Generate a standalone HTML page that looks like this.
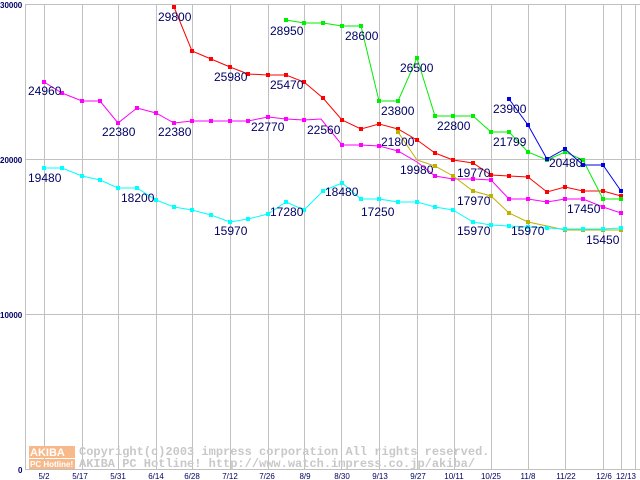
<!DOCTYPE html>
<html><head><meta charset="utf-8"><style>
html,body{margin:0;padding:0;background:#fff}
svg{display:block}
text{font-family:"Liberation Sans","DejaVu Sans",sans-serif}
</style></head><body>
<svg width="640" height="480" viewBox="0 0 640 480" xmlns="http://www.w3.org/2000/svg">
<rect width="640" height="480" fill="#fff"/>
<g stroke="#c0c0c0" stroke-width="1">
<line x1="25" y1="4.5" x2="640" y2="4.5"/>
<line x1="25" y1="159.5" x2="640" y2="159.5"/>
<line x1="25" y1="314.5" x2="640" y2="314.5"/>
<line x1="25" y1="469.5" x2="640" y2="469.5"/>
<line x1="25.5" y1="4" x2="25.5" y2="470"/>
<line x1="44.5" y1="4" x2="44.5" y2="470"/>
<line x1="82.5" y1="4" x2="82.5" y2="470"/>
<line x1="118.5" y1="4" x2="118.5" y2="470"/>
<line x1="156.5" y1="4" x2="156.5" y2="470"/>
<line x1="192.5" y1="4" x2="192.5" y2="470"/>
<line x1="230.5" y1="4" x2="230.5" y2="470"/>
<line x1="268.5" y1="4" x2="268.5" y2="470"/>
<line x1="304.5" y1="4" x2="304.5" y2="470"/>
<line x1="341.5" y1="4" x2="341.5" y2="470"/>
<line x1="379.5" y1="4" x2="379.5" y2="470"/>
<line x1="417.5" y1="4" x2="417.5" y2="470"/>
<line x1="454.5" y1="4" x2="454.5" y2="470"/>
<line x1="491.5" y1="4" x2="491.5" y2="470"/>
<line x1="528.5" y1="4" x2="528.5" y2="470"/>
<line x1="565.5" y1="4" x2="565.5" y2="470"/>
<line x1="603.5" y1="4" x2="603.5" y2="470"/>
<line x1="621.5" y1="4" x2="621.5" y2="470"/>
<line x1="635.5" y1="4" x2="635.5" y2="470"/>
</g>
<!-- watermark -->
<rect x="29" y="446" width="46" height="12" fill="#f7b98a"/>
<rect x="29" y="459" width="46" height="10" fill="#f7b98a"/>
<text x="30" y="456" font-size="11" fill="#fff" font-weight="bold">AKIBA</text>
<text x="30" y="467" font-size="8" fill="#fff" font-weight="bold">PC Hotline!</text>
<text x="79" y="455" fill="#c8c8c8" style="font-family:'Liberation Mono',monospace;font-size:12px;font-weight:bold">Copyright(c)2003 impress corporation All rights reserved.</text>
<text x="79" y="467" fill="#c8c8c8" style="font-family:'Liberation Mono',monospace;font-size:12px;font-weight:bold">AKIBA PC Hotline!  http://www.watch.impress.co.jp/akiba/</text>

<g fill="none" stroke-width="1">
<polyline stroke="#ff00ff" points="44,82 62,93 82,101 100,101 118,123 137,108 156,113 174,123 192,121 211,121 230,121 248,121 268,117 286,119 304,120 321,119 342,145 361,145 379,146 398,151 417,162 435,176 453,179 473,179 491,180 509,199 528,199 547,202 565,199 583,199 603,207 621,213"/>
<polyline stroke="#ff0000" points="174,7 192,51 211,59 230,67 248,74 268,75 286,75 304,82 323,98 342,120 361,129 379,124 398,129 417,140 435,153 453,160 473,163 491,175 509,176 528,177 547,192 565,187 583,191 603,191 621,196"/>
<polyline stroke="#00ee00" points="286,20 304,23 323,23 342,26 361,26 379,101 398,101 417,58 435,116 453,116 473,116 491,132 509,132 528,152 547,160 565,152 583,160 603,199 621,199"/>
<polyline stroke="#0000ee" points="509,99 528,125 547,159 565,149 583,165 603,165 621,191"/>
<polyline stroke="#c0b000" points="398,132 417,160 435,166 453,176 473,191 491,196 509,213 528,222 547,226 565,230 583,230 603,230 621,230"/>
<polyline stroke="#00ffff" points="44,168 62,168 82,176 100,180 118,188 137,188 156,200 174,207 192,210 211,215 230,222 248,219 268,214 286,202 304,210 323,191 342,183 361,199 379,199 398,202 417,202 435,207 453,210 473,222 491,225 509,226 528,227 547,228 565,229 583,229 603,229 621,228"/>
</g>
<g>
<g fill="#ff00ff"><rect x="42" y="80" width="4" height="4"/><rect x="60" y="91" width="4" height="4"/><rect x="80" y="99" width="4" height="4"/><rect x="98" y="99" width="4" height="4"/><rect x="116" y="121" width="4" height="4"/><rect x="135" y="106" width="4" height="4"/><rect x="154" y="111" width="4" height="4"/><rect x="172" y="121" width="4" height="4"/><rect x="190" y="119" width="4" height="4"/><rect x="209" y="119" width="4" height="4"/><rect x="228" y="119" width="4" height="4"/><rect x="246" y="119" width="4" height="4"/><rect x="266" y="115" width="4" height="4"/><rect x="284" y="117" width="4" height="4"/><rect x="302" y="118" width="4" height="4"/><rect x="340" y="143" width="4" height="4"/><rect x="359" y="143" width="4" height="4"/><rect x="377" y="144" width="4" height="4"/><rect x="396" y="149" width="4" height="4"/><rect x="433" y="174" width="4" height="4"/><rect x="451" y="177" width="4" height="4"/><rect x="471" y="177" width="4" height="4"/><rect x="489" y="178" width="4" height="4"/><rect x="507" y="197" width="4" height="4"/><rect x="526" y="197" width="4" height="4"/><rect x="545" y="200" width="4" height="4"/><rect x="563" y="197" width="4" height="4"/><rect x="581" y="197" width="4" height="4"/><rect x="601" y="205" width="4" height="4"/><rect x="619" y="211" width="4" height="4"/></g>
<g fill="#ff0000"><rect x="172" y="5" width="4" height="4"/><rect x="190" y="49" width="4" height="4"/><rect x="209" y="57" width="4" height="4"/><rect x="228" y="65" width="4" height="4"/><rect x="246" y="72" width="4" height="4"/><rect x="266" y="73" width="4" height="4"/><rect x="284" y="73" width="4" height="4"/><rect x="302" y="80" width="4" height="4"/><rect x="321" y="96" width="4" height="4"/><rect x="340" y="118" width="4" height="4"/><rect x="359" y="127" width="4" height="4"/><rect x="377" y="122" width="4" height="4"/><rect x="396" y="127" width="4" height="4"/><rect x="415" y="138" width="4" height="4"/><rect x="433" y="151" width="4" height="4"/><rect x="451" y="158" width="4" height="4"/><rect x="471" y="161" width="4" height="4"/><rect x="489" y="173" width="4" height="4"/><rect x="507" y="174" width="4" height="4"/><rect x="526" y="175" width="4" height="4"/><rect x="545" y="190" width="4" height="4"/><rect x="563" y="185" width="4" height="4"/><rect x="581" y="189" width="4" height="4"/><rect x="601" y="189" width="4" height="4"/><rect x="619" y="194" width="4" height="4"/></g>
<g fill="#00ee00"><rect x="284" y="18" width="4" height="4"/><rect x="302" y="21" width="4" height="4"/><rect x="321" y="21" width="4" height="4"/><rect x="340" y="24" width="4" height="4"/><rect x="359" y="24" width="4" height="4"/><rect x="377" y="99" width="4" height="4"/><rect x="396" y="99" width="4" height="4"/><rect x="415" y="56" width="4" height="4"/><rect x="433" y="114" width="4" height="4"/><rect x="451" y="114" width="4" height="4"/><rect x="471" y="114" width="4" height="4"/><rect x="489" y="130" width="4" height="4"/><rect x="507" y="130" width="4" height="4"/><rect x="526" y="150" width="4" height="4"/><rect x="545" y="158" width="4" height="4"/><rect x="563" y="150" width="4" height="4"/><rect x="581" y="158" width="4" height="4"/><rect x="601" y="197" width="4" height="4"/><rect x="619" y="197" width="4" height="4"/></g>
<g fill="#0000ee"><rect x="507" y="97" width="4" height="4"/><rect x="526" y="123" width="4" height="4"/><rect x="545" y="157" width="4" height="4"/><rect x="563" y="147" width="4" height="4"/><rect x="581" y="163" width="4" height="4"/><rect x="601" y="163" width="4" height="4"/><rect x="619" y="189" width="4" height="4"/></g>
<g fill="#c0b000"><rect x="396" y="130" width="4" height="4"/><rect x="433" y="164" width="4" height="4"/><rect x="451" y="174" width="4" height="4"/><rect x="471" y="189" width="4" height="4"/><rect x="489" y="194" width="4" height="4"/><rect x="507" y="211" width="4" height="4"/><rect x="526" y="220" width="4" height="4"/><rect x="563" y="228" width="4" height="4"/><rect x="581" y="228" width="4" height="4"/><rect x="601" y="228" width="4" height="4"/><rect x="619" y="228" width="4" height="4"/></g>
<g fill="#00ffff"><rect x="42" y="166" width="4" height="4"/><rect x="60" y="166" width="4" height="4"/><rect x="80" y="174" width="4" height="4"/><rect x="98" y="178" width="4" height="4"/><rect x="116" y="186" width="4" height="4"/><rect x="135" y="186" width="4" height="4"/><rect x="154" y="198" width="4" height="4"/><rect x="172" y="205" width="4" height="4"/><rect x="190" y="208" width="4" height="4"/><rect x="209" y="213" width="4" height="4"/><rect x="228" y="220" width="4" height="4"/><rect x="246" y="217" width="4" height="4"/><rect x="266" y="212" width="4" height="4"/><rect x="284" y="200" width="4" height="4"/><rect x="302" y="208" width="4" height="4"/><rect x="321" y="189" width="4" height="4"/><rect x="340" y="181" width="4" height="4"/><rect x="359" y="197" width="4" height="4"/><rect x="377" y="197" width="4" height="4"/><rect x="396" y="200" width="4" height="4"/><rect x="415" y="200" width="4" height="4"/><rect x="433" y="205" width="4" height="4"/><rect x="451" y="208" width="4" height="4"/><rect x="471" y="220" width="4" height="4"/><rect x="489" y="223" width="4" height="4"/><rect x="507" y="224" width="4" height="4"/><rect x="526" y="225" width="4" height="4"/><rect x="545" y="226" width="4" height="4"/><rect x="563" y="227" width="4" height="4"/><rect x="581" y="227" width="4" height="4"/><rect x="601" y="227" width="4" height="4"/><rect x="619" y="226" width="4" height="4"/></g>
</g>
<g font-size="12" fill="#000066">
<text x="28" y="95">24960</text>
<text x="102" y="136">22380</text>
<text x="158" y="136">22380</text>
<text x="158" y="21">29800</text>
<text x="214" y="81">25980</text>
<text x="270" y="89">25470</text>
<text x="270" y="35">28950</text>
<text x="251" y="131">22770</text>
<text x="307" y="134">22560</text>
<text x="345" y="40">28600</text>
<text x="381" y="115">23800</text>
<text x="400" y="72">26500</text>
<text x="381" y="146">21800</text>
<text x="400" y="174">19980</text>
<text x="437" y="130">22800</text>
<text x="457" y="177">19770</text>
<text x="457" y="205">17970</text>
<text x="493" y="146">21799</text>
<text x="493" y="113">23900</text>
<text x="549" y="167">20480</text>
<text x="567" y="213">17450</text>
<text x="586" y="244">15450</text>
<text x="28" y="182">19480</text>
<text x="121" y="202">18200</text>
<text x="214" y="235">15970</text>
<text x="270" y="216">17280</text>
<text x="325" y="196">18480</text>
<text x="361" y="216">17250</text>
<text x="457" y="235">15970</text>
<text x="511" y="235">15970</text>
</g>
<g font-size="8" fill="#000066" font-weight="bold">
<text x="0" y="8">30000</text>
<text x="0" y="163">20000</text>
<text x="0" y="318">10000</text>
<text x="18" y="473">0</text>
</g>
<g font-size="8" fill="#000066" text-anchor="middle">
<text x="44" y="479">5/2</text>
<text x="80" y="479">5/17</text>
<text x="118" y="479">5/31</text>
<text x="156" y="479">6/14</text>
<text x="192" y="479">6/28</text>
<text x="230" y="479">7/12</text>
<text x="267" y="479">7/26</text>
<text x="305" y="479">8/9</text>
<text x="342" y="479">8/30</text>
<text x="380" y="479">9/13</text>
<text x="418" y="479">9/27</text>
<text x="454" y="479">10/11</text>
<text x="491" y="479">10/25</text>
<text x="528" y="479">11/8</text>
<text x="566" y="479">11/22</text>
<text x="604" y="479">12/6</text>
<text x="626" y="479">12/13</text>
</g>
</svg>
</body></html>
